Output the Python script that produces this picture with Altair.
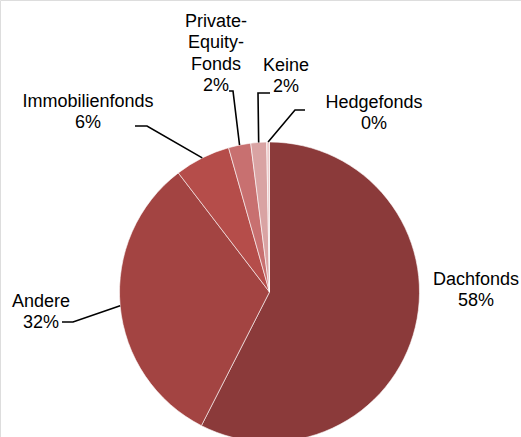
import math
import altair as alt
import pandas as pd

# ---- data ----
categories = ["Dachfonds", "Andere", "Immobilienfonds", "Private-Equity-Fonds", "Keine", "Hedgefonds"]
values = [57.5, 32.1, 6.0, 2.4, 1.7, 0.3]
pct_labels = ["58%", "32%", "6%", "2%", "2%", "0%"]
label_lines = [["Dachfonds"], ["Andere"], ["Immobilienfonds"], ["Private-", "Equity-", "Fonds"], ["Keine"], ["Hedgefonds"]]
colors = ["#8B3A3A", "#A34442", "#B54D4A", "#C87070", "#D9A3A3", "#EDCBCB"]

# ---- layout ----
CX, CY, R = 269.5, 292.0, 150.0
LINE_H = 21.3
label_pos = [(476, 285), (41, 307), (88, 107), (216, 27), (286, 71), (374, 108)]
elbows = [None, ((73, 322), (62, 322)), ((147, 126), (135, 126)), ((233, 91), (229, 91)),
          ((258, 93), (270, 93)), ((295, 110), (305, 110))]

pie_df = pd.DataFrame({"cat": categories, "val": values, "idx": list(range(len(values)))})

# text rows
rows = []
for i, (lines, pct) in enumerate(zip(label_lines, pct_labels)):
    x0, y0 = label_pos[i]
    for j, t in enumerate(lines + [pct]):
        rows.append({"x": x0, "y": y0 + j * LINE_H, "t": t})
text_df = pd.DataFrame(rows)

# leader lines: start at slice mid-angle on pie edge
total = sum(values)
cum = 0.0
lrows = []
for i, v in enumerate(values):
    mid = (cum + v / 2) / total * 2 * math.pi
    cum += v
    if elbows[i] is None:
        continue
    sx = CX + R * math.sin(mid)
    sy = CY - R * math.cos(mid)
    pts = [(sx, sy), elbows[i][0], elbows[i][1]]
    for k, (px, py) in enumerate(pts):
        lrows.append({"g": categories[i], "k": k, "x": px, "y": py})
line_df = pd.DataFrame(lrows)

pie = alt.Chart(pie_df).mark_arc(radius=R, stroke="white", strokeWidth=0.6).encode(
    theta=alt.Theta("val:Q", stack=True),
    order=alt.Order("idx:Q"),
    color=alt.Color("cat:N", scale=alt.Scale(domain=categories, range=colors), legend=None),
    x=alt.value(CX),
    y=alt.value(CY),
)

leaders = alt.Chart(line_df).mark_line(color="black", strokeWidth=1.6).encode(
    x=alt.X("x:Q", scale=None),
    y=alt.Y("y:Q", scale=None),
    detail="g:N",
    order="k:Q",
)

texts = alt.Chart(text_df).mark_text(
    font="Liberation Sans", fontSize=18, color="black", align="center", baseline="alphabetic"
).encode(
    x=alt.X("x:Q", scale=None),
    y=alt.Y("y:Q", scale=None),
    text="t:N",
)

chart = alt.layer(pie, leaders, texts).properties(
    width=521, height=437, padding=0, autosize=alt.AutoSizeParams(type="none")
).configure_view(stroke=None).configure(background="white")

chart.save("out.html", embed_options={"renderer": "svg", "actions": False})
